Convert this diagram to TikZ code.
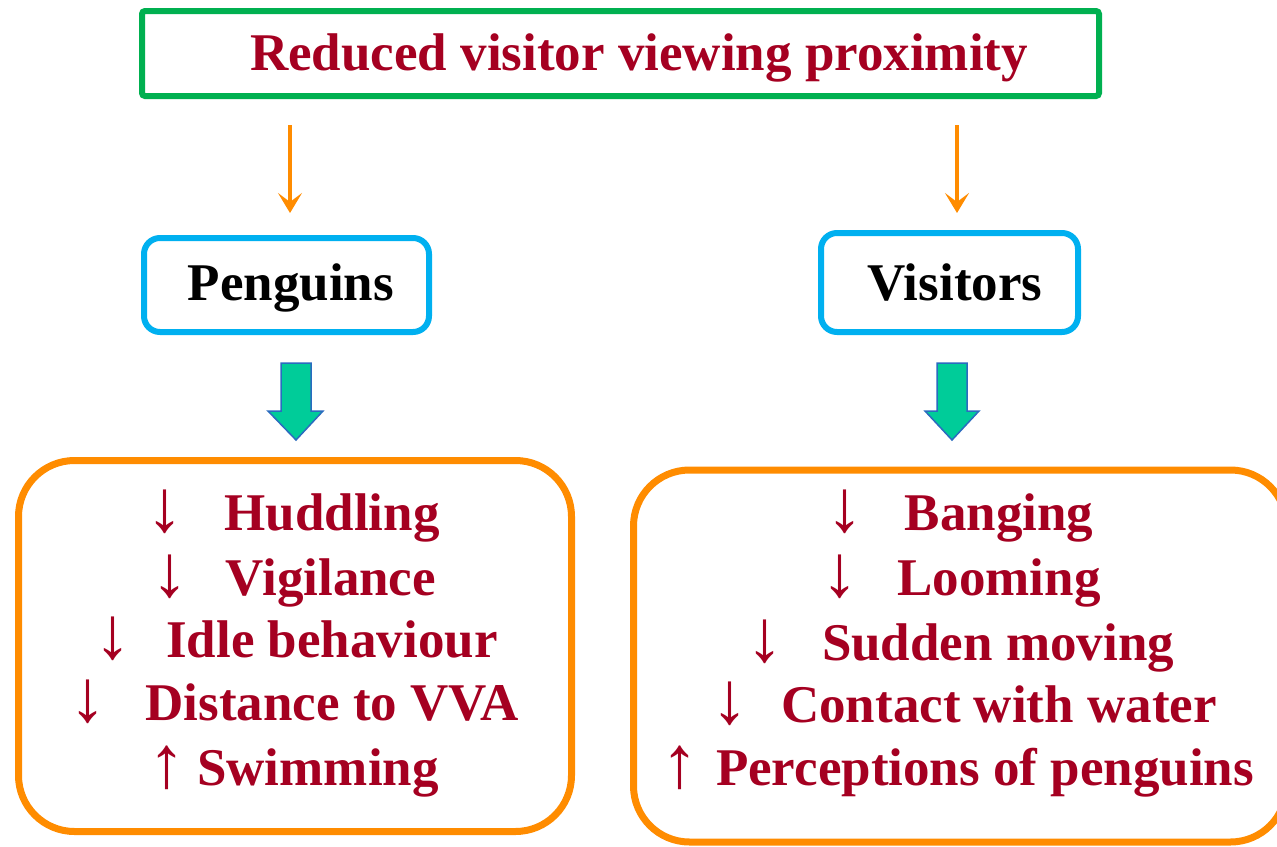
\documentclass[tikz,border=0pt]{standalone}
\usepackage{fontspec}
\setmainfont{Liberation Serif}
\usetikzlibrary{arrows.meta}
\definecolor{dred}{HTML}{A50021}
\definecolor{tgreen}{HTML}{00B050}
\definecolor{tcyan}{HTML}{00B0F0}
\definecolor{torange}{HTML}{FF8C00}
\definecolor{bfill}{HTML}{00CC99}
\definecolor{bline}{HTML}{2A6BBF}
\tikzset{
  titlebox/.style={draw=tgreen, line width=6pt, rounded corners=3pt, inner sep=0pt},
  groupbox/.style={draw=tcyan, line width=6pt, rounded corners=16pt, inner sep=0pt},
  resbox/.style={draw=torange, line width=7pt, rounded corners=56pt, inner sep=0pt},
  bigtxt/.style={font=\fontsize{53}{60}\selectfont\bfseries, inner sep=0pt, anchor=base},
  redtxt/.style={bigtxt, text=dred},
  blktxt/.style={bigtxt, text=black},
  arrtxt/.style={font=\fontsize{74}{80}\selectfont, text=dred, inner sep=0pt, anchor=base},
  thinarrow/.style={draw=torange, line width=4pt, -{Stealth[length=20pt,width=24pt,inset=9pt]}},
  blockarrow/.style={fill=bfill, draw=bline, line width=1.5pt, line join=miter},
}
\begin{document}
\begin{tikzpicture}[x=1pt,y=-1pt]
\useasboundingbox (0,0) rectangle (1277,846);
\clip (0,0) rectangle (1277,846);
\fill[white] (0,0) rectangle (1277,846);

% title
\node[titlebox, minimum width=957pt, minimum height=85pt] (title) at (620.5,53.5) {};
\node[redtxt] (titletxt) at (639,70) {Reduced visitor viewing proximity};

% group boxes
\node[groupbox, minimum width=285pt, minimum height=94pt] (peng) at (286.5,285) {};
\node[blktxt] (pengtxt) at (291,300) {Penguins};
\node[groupbox, minimum width=257pt, minimum height=99pt] (visi) at (949.5,282.5) {};
\node[blktxt] (visitxt) at (955,300) {Visitors};

% thin arrows
\coordinate (la1) at (290,125);
\coordinate (la2) at (290,213);
\coordinate (ra1) at (957,125);
\coordinate (ra2) at (957,213);
\draw[thinarrow] (la1) -- (la2);
\draw[thinarrow] (ra1) -- (ra2);

% block arrows
\draw[blockarrow] (281,363) -- (311,363) -- (311,411) -- (323,411) -- (296,440) -- (268,411) -- (281,411) -- cycle;
\draw[blockarrow] (937,363) -- (967,363) -- (967,411) -- (979,411) -- (952,440) -- (925,411) -- (937,411) -- cycle;

% result boxes
\node[resbox, minimum width=553pt, minimum height=371pt] (lres) at (295,646) {};
\node[resbox, minimum width=653pt, minimum height=372pt] (rres) at (960,656) {};

% left texts
\node[arrtxt] (l1a) at (165,531) {↓};
\node[redtxt] (l1) at (332,530) {Huddling};
\node[arrtxt] (l2a) at (170,596) {↓};
\node[redtxt] (l2) at (331,595) {Vigilance};
\node[arrtxt] (l3a) at (113,658) {↓};
\node[redtxt] (l3) at (332,657) {Idle behaviour};
\node[arrtxt] (l4a) at (88,721) {↓};
\node[redtxt] (l4) at (332,720) {Distance to VVA};
\node[arrtxt] (l5a) at (167,787) {↑};
\node[redtxt] (l5) at (318,785) {Swimming};

% right texts
\node[arrtxt] (r1a) at (845,531) {↓};
\node[redtxt] (r1) at (999,530) {Banging};
\node[arrtxt] (r2a) at (840,596) {↓};
\node[redtxt] (r2) at (999,595) {Looming};
\node[arrtxt] (r3a) at (765,661) {↓};
\node[redtxt] (r3) at (998,660) {Sudden moving};
\node[arrtxt] (r4a) at (730,723) {↓};
\node[redtxt] (r4) at (999,722) {Contact with water};
\node[arrtxt] (r5a) at (680,787) {↑};
\node[redtxt] (r5) at (985,785) {Perceptions of penguins};
\end{tikzpicture}
\end{document}
